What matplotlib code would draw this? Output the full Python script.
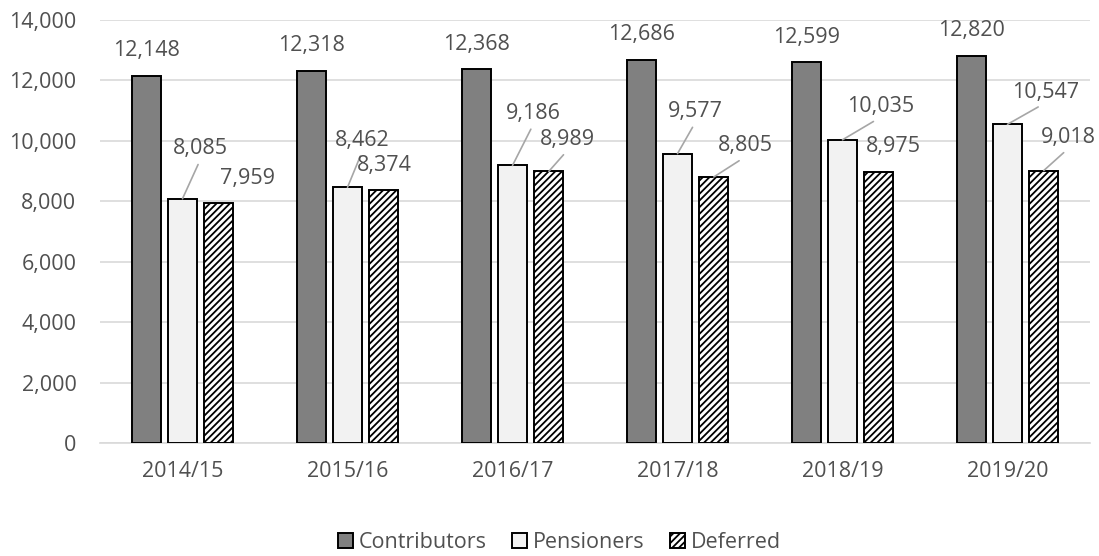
import matplotlib
matplotlib.use("Agg")
import matplotlib.pyplot as plt
import numpy as np

years = ["2014/15", "2015/16", "2016/17", "2017/18", "2018/19", "2019/20"]
contributors = [12148, 12318, 12368, 12686, 12599, 12820]
pensioners = [8085, 8462, 9186, 9577, 10035, 10547]
deferred = [7959, 8374, 8989, 8805, 8975, 9018]
yticks = [0, 2000, 4000, 6000, 8000, 10000, 12000, 14000]

# label layout (pixel offsets from bar top centre) and whether a leader line is drawn
pens_offsets = [(18, -50), (15, -47), (21, -52), (18, -42), (38, -33), (38, -32)]
pens_leader = [True, True, True, True, True, True]
def_offsets = [(29, -24), (1, -24), (19, -32), (32, -31), (15, -25), (25, -33)]
def_leader = [False, False, True, True, False, True]

plt.rcParams['font.family'] = ['Open Sans', 'DejaVu Sans']
plt.rcParams['hatch.linewidth'] = 1.3
TXT = '#505050'
FS = 15.5

fig = plt.figure(figsize=(10.99, 5.56), dpi=100)
ax = fig.add_axes([100/1099, 1-443/556, 990/1099, 423/556])

x = np.arange(len(years))
w = 0.178
off = 0.22
b1 = ax.bar(x - off, contributors, w, color='#808080', edgecolor='black', linewidth=1.4, label='Contributors', zorder=3)
b2 = ax.bar(x, pensioners, w, color='#f2f2f2', edgecolor='black', linewidth=1.4, label='Pensioners', zorder=3)
b3 = ax.bar(x + off, deferred, w, color='white', edgecolor='black', hatch='/////', linewidth=1.4, label='Deferred', zorder=3)

ax.set_ylim(0, 14000)
ax.set_xlim(-0.5, len(years) - 0.5)
ax.set_yticks(yticks)
ax.set_yticklabels([f"{v:,}" for v in yticks])
ax.set_xticks(x)
ax.set_xticklabels(years)
ax.tick_params(axis='both', length=0, labelsize=FS, labelcolor=TXT)
ax.tick_params(axis='y', pad=17)
ax.tick_params(axis='x', pad=13)
ax.grid(axis='y', color='#d9d9d9', linewidth=1.2, zorder=0)
for s in ['top', 'right', 'left']:
    ax.spines[s].set_visible(False)
ax.spines['bottom'].set_color('#d9d9d9')
ax.spines['bottom'].set_linewidth(1.2)

for xi, v in zip(x, contributors):
    ax.annotate(f"{v:,}", (xi - off, v), xytext=(0, 25), textcoords='offset pixels',
                ha='center', va='center', fontsize=FS, color=TXT)

def lab(xs, vals, offs, leaders):
    for xi, v, (dx, dy), ld in zip(xs, vals, offs, leaders):
        kw = {}
        if ld:
            kw['arrowprops'] = dict(arrowstyle='-', color='#a6a6a6', lw=1.2,
                                    relpos=(0.5, 0.0), shrinkA=2, shrinkB=0)
        ax.annotate(f"{v:,}", (xi, v), xytext=(dx, -dy), textcoords='offset pixels',
                    ha='center', va='center', fontsize=FS, color=TXT, zorder=4, **kw)

lab(x, pensioners, pens_offsets, pens_leader)
lab(x + off, deferred, def_offsets, def_leader)

fig.legend(handles=[b1, b2, b3], loc='center', bbox_to_anchor=(0.509, 0.025), ncol=3,
           frameon=False, fontsize=FS, labelcolor=TXT, handlelength=0.7, handleheight=0.7,
           handletextpad=0.25, columnspacing=1.2, borderaxespad=0)

fig.savefig('out.png', dpi=100)
